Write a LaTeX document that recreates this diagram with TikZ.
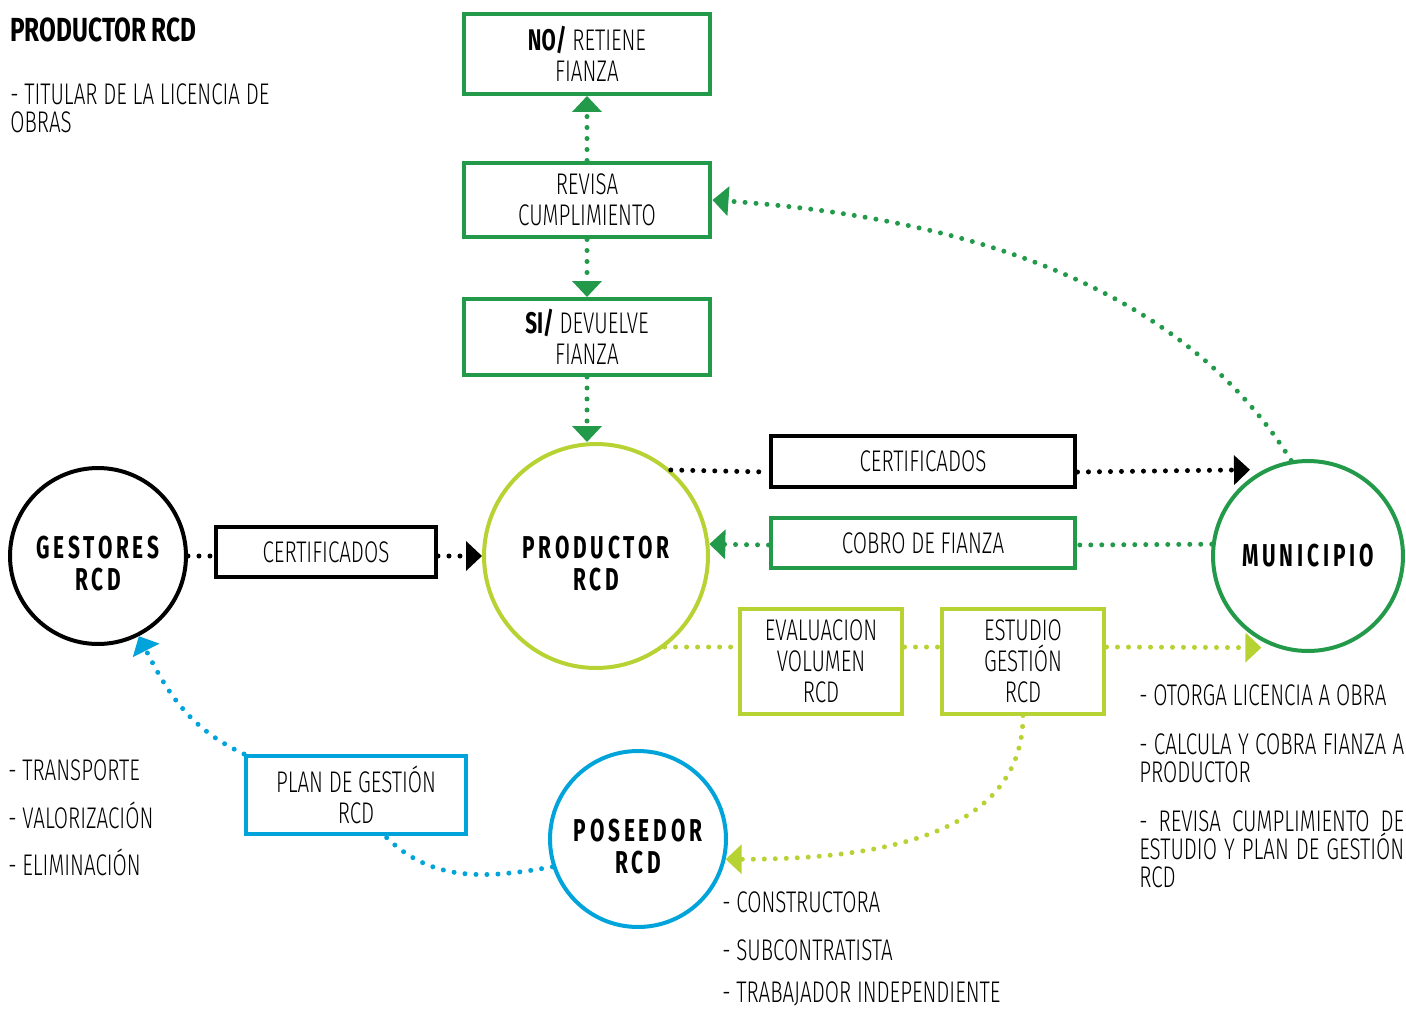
\documentclass[tikz,border=0pt]{standalone}
\usepackage{fontspec}
\setmainfont{Fira Sans}[UprightFont=* Light, BoldFont=* Bold, FakeStretch=0.69]
\newfontfamily\actorfamily{Fira Sans}[UprightFont=* Bold, FakeStretch=0.66, LetterSpace=12]
\newfontfamily\titulofamily{Fira Sans}[UprightFont=* Bold, FakeStretch=0.73]
\usetikzlibrary{positioning, arrows.meta}
\setlength{\parindent}{0pt}
\definecolor{verde}{RGB}{34,154,74}
\definecolor{lima}{RGB}{183,211,51}
\definecolor{azul}{RGB}{0,163,218}
\newcommand{\cajafont}{\fontsize{17}{17.6}\selectfont}
\newcommand{\listafont}{\fontsize{17}{16}\selectfont}
\newcommand{\actorfont}{\actorfamily\fontsize{18}{18}\selectfont}
\newcommand{\titulofont}{\titulofamily\fontsize{19}{19}\selectfont}
\newcommand{\alto}{\rule{0pt}{21pt}} % pushes two-line circle labels down
\tikzset{
x=0.02cm, y=-0.02cm, % one unit is one pixel of the sketch
>={Triangle[length=0.32cm, width=0.58cm]}, % filled triangle heads
caja/.style={draw, line width=0.08cm, align=center, font=\cajafont, inner sep=0pt}, % the square boxes
actor/.style={circle, draw, line width=0.08cm, align=center, font=\actorfont, inner sep=0pt}, % the round agents
dots/.style={line width=0.1cm, line cap=round, dash pattern=on 0pt off 0.22cm}, % dotted links
lista/.style={inner sep=0pt, font=\listafont, align=left}, % side notes
}
\begin{document}
\begin{tikzpicture}
        \useasboundingbox (0,0) rectangle (1406,1008);

        % agents
        \node[actor, draw=lima, minimum size=4.48cm] (productor) at (596,556) {\alto PRODUCTOR\\RCD};
        \node[actor, draw=black, minimum size=3.52cm] (gestores) at (98,556) {\alto GESTORES\\RCD};
        \node[actor, draw=verde, minimum size=3.8cm] (municipio) at (1308,556) {MUNICIPIO};
        \node[actor, draw=azul, minimum size=3.52cm] (poseedor) at (638,839) {\alto POSEEDOR\\RCD};

        % boxes
        \node[caja, draw=verde, minimum width=4.94cm, minimum height=1.6cm] (no-retiene) at (587,54) {\textbf{NO/} RETIENE\\FIANZA};
        \node[caja, draw=verde, minimum width=4.94cm, minimum height=1.5cm] (revisa) at (587,200) {REVISA\\CUMPLIMIENTO};
        \node[caja, draw=verde, minimum width=4.94cm, minimum height=1.52cm] (si-devuelve) at (587,337) {\textbf{SI/} DEVUELVE\\FIANZA};
        \node[caja, draw=black, minimum width=4.4cm, minimum height=1.0cm] (cert-gestores) at (326,552) {CERTIFICADOS};
        \node[caja, draw=black, minimum width=6.1cm, minimum height=1.02cm] (cert-municipio) at (923,461) {CERTIFICADOS};
        \node[caja, draw=verde, minimum width=6.1cm, minimum height=1.0cm] (cobro) at (923,543) {COBRO DE FIANZA};
        \node[caja, draw=lima, minimum width=3.26cm, minimum height=2.1cm] (evaluacion) at (821,661) {EVALUACION\\VOLUMEN\\RCD};
        \node[caja, draw=lima, minimum width=3.26cm, minimum height=2.1cm] (estudio) at (1023,661) {ESTUDIO\\GESTIÓN\\RCD};
        \node[caja, draw=azul, minimum width=4.4cm, minimum height=1.56cm] (plan) at (356,795) {PLAN DE GESTIÓN\\RCD};

        % notes
        \node[lista, anchor=base west, font=\titulofont] (titulo) at (10,41) {PRODUCTOR RCD};
        \node[lista, anchor=north west] (titular) at (10,83) {- TITULAR DE LA LICENCIA DE\\OBRAS};
        \node[lista, anchor=base west] (transporte) at (8,780) {- TRANSPORTE};
        \node[lista, anchor=base west] (valorizacion) at (8,828) {- VALORIZACIÓN};
        \node[lista, anchor=base west] (eliminacion) at (8,875) {- ELIMINACIÓN};
        \node[lista, anchor=base west] (otorga) at (1139,705) {- OTORGA LICENCIA A OBRA};
        \node[lista, anchor=north west, text width=5.3cm, align=justify] (calcula) at (1139,733) {- CALCULA Y COBRA FIANZA A\linebreak PRODUCTOR};
        \node[lista, anchor=north west, text width=5.3cm, align=justify] (revisa-nota) at (1139,810) {- REVISA CUMPLIMIENTO DE\linebreak ESTUDIO Y PLAN DE GESTIÓN\linebreak RCD};
        \node[lista, anchor=base west] (constructora) at (722,912) {- CONSTRUCTORA};
        \node[lista, anchor=base west] (subcontratista) at (722,960) {- SUBCONTRATISTA};
        \node[lista, anchor=base west] (trabajador) at (722,1002) {- TRABAJADOR INDEPENDIENTE};

        % fianza column
        \draw[->, dots, verde] (revisa.north) -- (no-retiene.south);
        \draw[->, dots, verde] (revisa.south) -- (si-devuelve.north);
        \draw[->, dots, verde] (si-devuelve.south) -- (si-devuelve.south |- productor.north);
        \draw[->, dots, verde] (municipio.100) to[out=122, in=-4, looseness=0.9] (revisa.east);

        % productor <-> municipio
        \draw[-, dots] (productor.49) -- ([yshift=-0.22cm]cert-municipio.west);
        \draw[->, dots, shorten >=0.28cm] ([yshift=-0.22cm]cert-municipio.east) -- (municipio.117);
        \draw[-, dots, verde] (municipio.173) -- ([yshift=-0.04cm]cobro.east);
        \draw[->, dots, verde] ([yshift=-0.04cm]cobro.west) -- (productor.6);
        \draw[-, dots, lima] (productor.-53) -- ([yshift=0.28cm]evaluacion.west);
        \draw[-, dots, lima] ([yshift=0.28cm]evaluacion.east) -- ([yshift=0.28cm]estudio.west);
        \draw[->, dots, lima, shorten >=0.3cm] ([yshift=0.28cm]estudio.east) -- (municipio.-109);

        % gestores and poseedor
        \draw[-, dots] (gestores.east) -- (cert-gestores.west |- gestores.east);
        \draw[->, dots] (cert-gestores.east |- gestores.east) -- (productor.west);
        \draw[->, dots, lima] (estudio.south) to[out=-90, in=0] (poseedor.-13);
        \draw[-, dots, azul] (poseedor.198) to[out=190, in=-45] ([xshift=0.58cm]plan.south);
        \draw[->, dots, azul] (plan.north west) to[out=155, in=-63] (gestores.-63);
    \end{tikzpicture}
\end{document}
